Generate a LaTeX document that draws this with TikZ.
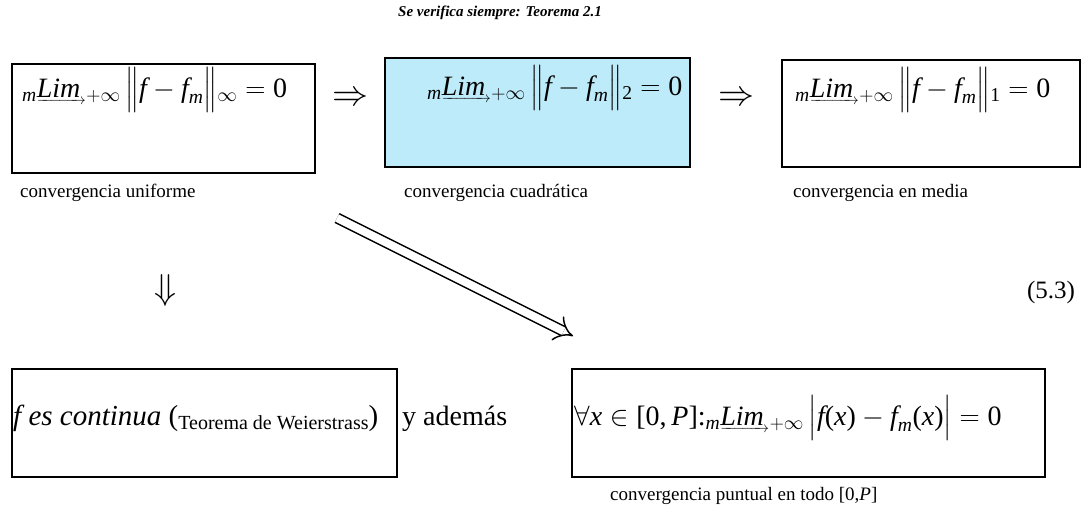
\RequirePackage{fix-cm}
\documentclass[tikz,border=0pt]{standalone}
\usepackage{amsmath}
\usepackage{fontspec}
\setmainfont{Liberation Serif}
\usetikzlibrary{arrows.meta}
\newcommand\vi[1]{\text{\itshape #1}}
\newcommand\LimArrow{\mathord{\rlap{\smash{\raisebox{-7pt}{\fontsize{15}{15}\selectfont\hbox to 49pt{\rightarrowfill}}}}\vi{Lim}\kern6pt}}
\newcommand\Lm{{}_{\vi{m}}\LimArrow_{+\infty}}
\definecolor{boxblue}{RGB}{189,235,250}
\tikzset{
  box/.style={draw=black, line width=1.5pt, inner sep=0pt},
  formula/.style={anchor=base west, inner sep=0pt, font=\fontsize{28}{32}\selectfont},
  label/.style={anchor=base west, inner sep=0pt, font=\fontsize{19}{22}\selectfont},
  sym/.style={inner sep=0pt, font=\fontsize{36}{40}\selectfont},
  implies/.style={double, double distance=8pt, line width=1.5pt, -{Implies}}
}
\begin{document}
\begin{tikzpicture}[x=1pt,y=-1pt]
\useasboundingbox (0,0) rectangle (1083,507);
\node[inner sep=0pt, font=\bfseries\itshape\fontsize{15}{18}\selectfont] (title) at (500,13) {Se verifica siempre: Teorema 2.1};
% top boxes
\node[box, minimum width=303, minimum height=109] (b1) at (163.5,118.5) {};
\node[box, fill=boxblue, minimum width=305, minimum height=109] (b2) at (537.5,112.5) {};
\node[box, minimum width=298, minimum height=107] (b3) at (931,113.5) {};
\node[formula] (f1) at (22,97) {$\Lm\,\big\|\vi{f}-\vi{f}_{\vi{m}}\big\|{}_{\infty}=\text{0}$};
\node[formula] (f2) at (427,95) {$\Lm\,\big\|\vi{f}-\vi{f}_{\vi{m}}\big\|{}_{\text{2}}=\text{0}$};
\node[formula] (f3) at (795,97) {$\Lm\,\big\|\vi{f}-\vi{f}_{\vi{m}}\big\|{}_{\text{1}}=\text{0}$};
\node[sym] (i1) at (350,99) {$\Rightarrow$};
\node[sym] (i2) at (736,99) {$\Rightarrow$};
\node[label] (l1) at (20,197) {convergencia uniforme};
\node[label] (l2) at (404,197) {convergencia cuadrática};
\node[label] (l3) at (793,197) {convergencia en media};
% middle
\node[sym] (down) at (165,290) {$\Downarrow$};
\node[inner sep=0pt, font=\fontsize{25}{30}\selectfont] (eq) at (1051,292) {(5.3)};
\coordinate (d1) at (337,218);
\coordinate (d2) at (573,336);
\draw[implies] (d1) -- (d2);
% bottom boxes
\node[box, minimum width=385, minimum height=108] (b4) at (204.5,423) {};
\node[box, minimum width=473, minimum height=108] (b5) at (808.5,423) {};
\node[anchor=base west, inner sep=0pt, font=\fontsize{29}{34}\selectfont] (t4) at (13,425)
  {\itshape f es continua \upshape(\raisebox{-4pt}{\fontsize{20}{24}\selectfont Teorema de Weierstrass})};
\node[anchor=base west, inner sep=0pt, font=\fontsize{28}{34}\selectfont] (ya) at (402,425) {y además};
\node[formula] (f5) at (574,425) {$\forall\vi{x}\in\text{[0,}\,\vi{P}\text{]:}\Lm\,\big|\vi{f}\text{(}\vi{x}\text{)}-\vi{f}_{\vi{m}}\text{(}\vi{x}\text{)}\big|=\text{0}$};
\node[label] (l5) at (610,500) {convergencia puntual en todo [0,\textit{P}]};
\end{tikzpicture}
\end{document}
